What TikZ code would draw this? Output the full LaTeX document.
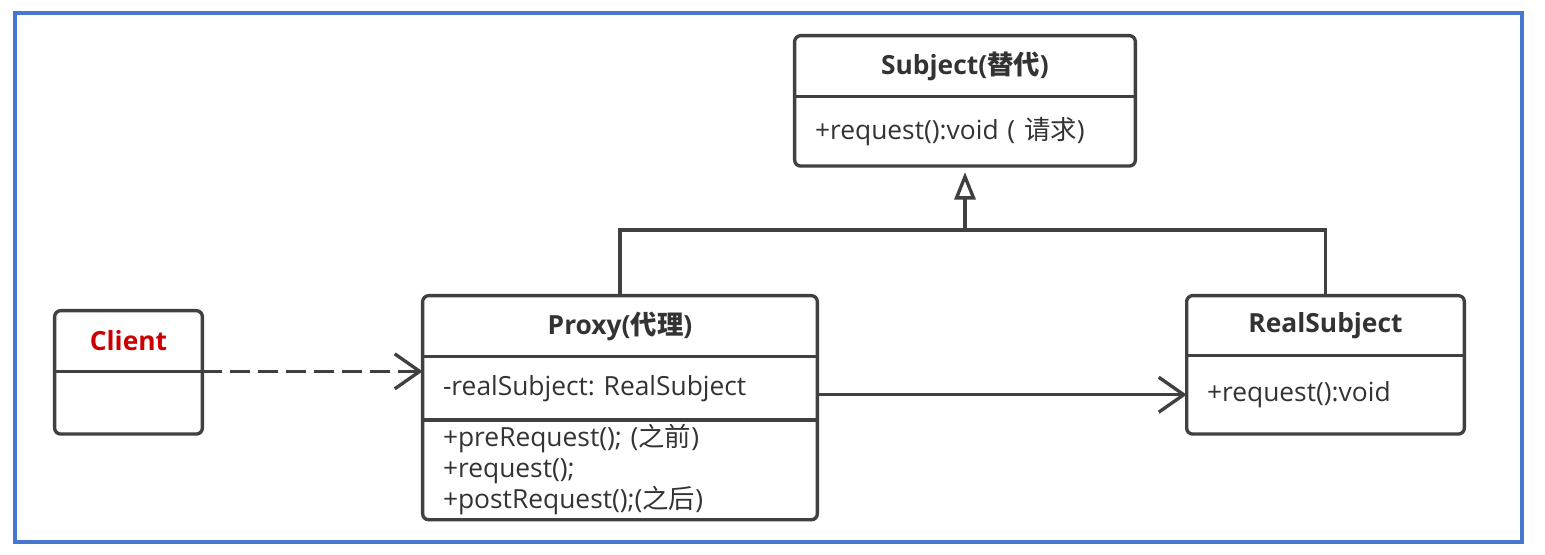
\documentclass[tikz,border=0pt]{standalone}
\usepackage{fontspec}
\setmainfont{Open Sans}
\newfontfamily\cjk{Noto Sans CJK SC}
\usetikzlibrary{arrows.meta,positioning}
\definecolor{ink}{RGB}{64,64,64}
\definecolor{txt}{RGB}{51,51,51}
\definecolor{frameblue}{RGB}{70,120,210}
\definecolor{clientred}{RGB}{204,0,0}
\frenchspacing

\begin{document}
\begin{tikzpicture}[%
    node distance=0pt,
    every node/.style={text=txt, font=\fontsize{15pt}{17.6pt}\selectfont},
    head/.style={%
        align=center,
        text width=#1,
        inner xsep=0.4cm,
        inner ysep=0pt,
        minimum height=1.2cm,
        font=\fontsize{15pt}{17.6pt}\selectfont\bfseries,
    },
    body/.style={%
        align=left,
        text width=#1,
        inner xsep=0.4cm,
        inner ysep=0pt,
    },
    line/.style={draw=ink, line width=1.9pt},
    dep/.style={line, dash pattern=on 0.4cm off 0.16cm, -{Straight Barb[length=0.5cm, width=0.7cm]}},
    assoc/.style={line, -{Straight Barb[length=0.5cm, width=0.7cm]}},
    gen/.style={line, -{Triangle[open, length=0.55cm, width=0.42cm]}, shorten >=0.12cm},
]
\useasboundingbox (0,0) rectangle (30.9,11.08);
\draw[draw=frameblue, line width=2pt] (0.3,0.24) rectangle (30.44,10.82);

    % classes
    \node[head=6cm] (sh) at (19.3,9.76) {Subject({\cjk 替代})};
    \node[body=6cm, below=of sh, minimum height=1.38cm] (sb) {+request():void ( {\cjk 请求})};

    \node[head=7.08cm] (ph) at (12.4,4.56) {Proxy({\cjk 代理})};
    \node[body=7.08cm, below=of ph, minimum height=1.26cm] (pa) {-realSubject: RealSubject};
    \node[body=7.08cm, below=of pa, minimum height=1.98cm] (pm) {+preRequest(); ({\cjk 之前})\\+request();\\+postRequest();({\cjk 之后})};

    \node[head=2.14cm, text=clientred] (ch) at (2.57,4.26) {Client};
    \node[body=2.14cm, below=of ch, minimum height=1.24cm] (cb) {};

    \node[head=4.74cm, minimum height=1.18cm] (rh) at (26.51,4.57) {RealSubject};
    \node[body=4.74cm, below=of rh, minimum height=1.56cm] (rb) {+request():void};

    \foreach \t/\b in {sh/sb, ph/pm, ch/cb, rh/rb}{%
        \draw[line, rounded corners=0.12cm] (\t.north west) rectangle (\b.south east);
    }
    \foreach \u in {sh, ph, pa, ch, rh}{%
        \draw[line] (\u.south west) -- (\u.south east);
    }

    % relations
    \coordinate (bus) at (0,6.48);
    \draw[line] (ph.north) |- (rh.north |- bus) -- (rh.north);
    \draw[gen] (sb.south |- bus) -- (sb.south);
    \draw[dep] (cb.north east) -- (cb.north east -| pa.west);
    \draw[assoc] (rb.west -| pa.east) -- (rb.west);
\end{tikzpicture}
\end{document}
